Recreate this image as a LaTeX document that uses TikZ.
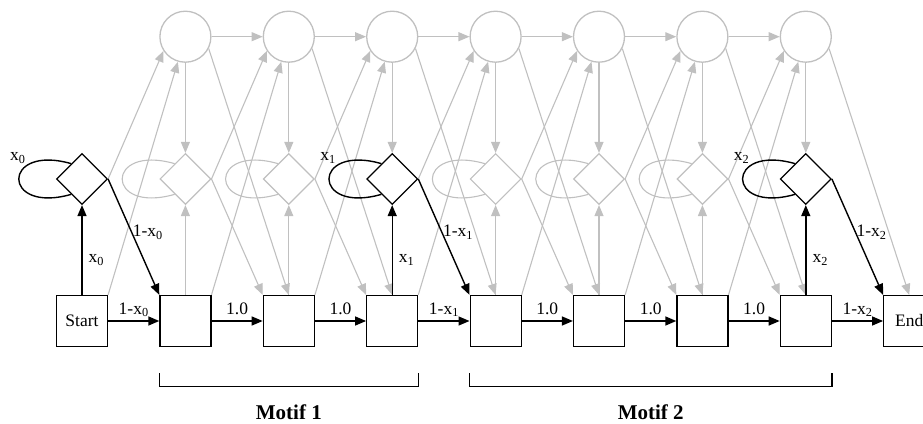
\documentclass[tikz,border=0pt]{standalone}
\usepackage{fontspec}
\setmainfont{Liberation Serif}
\usepackage{tikz}
\usetikzlibrary{calc, shapes.geometric, arrows.meta}
\definecolor{lgray}{RGB}{192,192,192}

\begin{document}
\begin{tikzpicture}[x = 1pt, y = 1pt, font = \fontsize{17.5}{21}\selectfont,
	>={Triangle[length = 11pt, width = 9pt]},
	mstate/.style = {draw, line width = 1.2pt, minimum size = 51pt, inner sep = 0pt},
	istate/.style = {diamond, draw, fill = white, line width = 1.2pt, minimum width = 51pt, minimum height = 51pt, inner sep = 0pt},
	dstate/.style = {circle, draw = lgray, line width = 1.3pt, minimum size = 51pt, inner sep = 0pt},
	bl/.style = {line width = 1.4pt, ->},
	gr/.style = {draw = lgray, line width = 1.1pt, ->},
	lbl/.style = {inner sep = 1pt, text depth = 0pt},
	motif/.style = {font = \fontsize{21}{25}\selectfont\bfseries, anchor = base, inner sep = 0pt}]
	\useasboundingbox (0, 0) rectangle (923, 423);
	\node[mstate] (m0) at (82, 102) {Start};
	\foreach \i in {1,...,7}{
		\node[mstate] (m\i) at (82 + 103.4*\i, 102) {};
		\node[dstate] (d\i) at (82 + 103.4*\i, 386.3) {};
		};
	\node[mstate] (m8) at (909.2, 102) {End};
	\foreach \i/\c in {0/black,1/lgray,2/lgray,3/black,4/lgray,5/lgray,6/lgray,7/black}{
		\node[istate, draw = \c] (i\i) at (82 + 103.4*\i, 244) {};
		};
	% grey part of the profile
	\foreach \i in {0,...,6}{
		\pgfmathtruncatemacro\j{\i + 1}
		\draw[gr] (m\i.north east) -- (d\j);
		\draw[gr] (i\i.east) -- (d\j.213);
		};
	\foreach \i in {1,...,7}{
		\pgfmathtruncatemacro\j{\i + 1}
		\draw[gr] (d\i.south) -- (i\i.north);
		\draw[gr] (d\i.-27) -- (m\j.north);
		};
	\foreach \i in {1,...,6}{
		\pgfmathtruncatemacro\j{\i + 1}
		\draw[gr] (d\i) -- (d\j);
		};
	\foreach \i in {1,2,4,5,6}{
		\pgfmathtruncatemacro\j{\i + 1}
		\draw[gr] (m\i.north) -- (i\i.south);
		\draw[gr, -] (i\i.125) .. controls +(-70, 20) and +(-70, -20) .. (i\i.235);
		\draw[gr] (i\i.east) -- (m\j.north west);
		};
	% black path
	\foreach \i/\j/\t in {0/1/1-x\textsubscript{0}, 1/2/1.0, 2/3/1.0, 3/4/1-x\textsubscript{1}, 4/5/1.0, 5/6/1.0, 6/7/1.0, 7/8/1-x\textsubscript{2}}{
		\draw[bl] (m\i) -- (m\j) node[lbl, midway, above = 5pt] {\t};
		};
	\foreach \i/\j/\k in {0/1/0, 3/4/1, 7/8/2}{
		\draw[bl] (m\i.north) -- (i\i.south) node[lbl, pos = 0.4, right = 5pt] {x\textsubscript{\k}};
		\draw[bl, -] (i\i.125) .. controls +(-70, 20) and +(-70, -20) .. (i\i.235) node[lbl, pos = 0.3, anchor = south east, yshift = 3pt] {x\textsubscript{\k}};
		\draw[bl] (i\i.east) -- (m\j.north west) node[lbl, pos = 0.45, anchor = west] {1-x\textsubscript{\k}};
		};
	\draw[line width = 1.2pt] ([yshift = -26pt]m1.south west) -- ++(0, -13) -| ([yshift = -26pt]m3.south east);
	\draw[line width = 1.2pt] ([yshift = -26pt]m4.south west) -- ++(0, -13) -| ([yshift = -26pt]m7.south east);
	\node[motif] (mot1) at ($(m2.center |- 0, 3.5)$) {Motif 1};
	\node[motif] (mot2) at ($(m5)!0.5!(m6) + (0, -98.5)$) {Motif 2};
\end{tikzpicture}
\end{document}
